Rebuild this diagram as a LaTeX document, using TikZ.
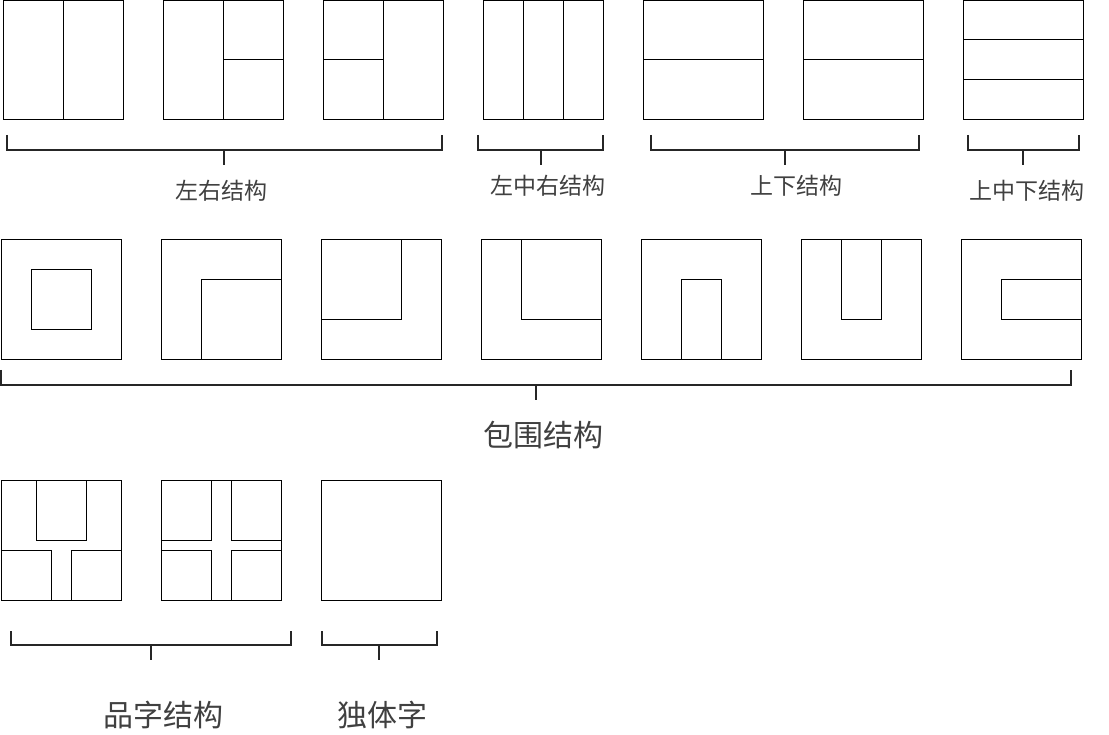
\documentclass[tikz,border=0pt]{standalone}
\usepackage{fontspec}
\newfontfamily\cjk{Noto Sans CJK SC}
\begin{document}
\begin{tikzpicture}[x=1pt,y=-1pt,
  box/.style={draw=black,line width=1pt},
  brk/.style={draw=black!85,line width=2pt},
  lbls/.style={font=\cjk\fontsize{23}{23}\selectfont,text=black!75,inner sep=0pt},
  lblb/.style={font=\cjk\fontsize{30}{30}\selectfont,text=black!75,inner sep=0pt}]
\useasboundingbox (0,0) rectangle (1109,735);
% ---------- row 1 ----------
\draw[box] (3,1) rectangle (123,120) (63,1) -- (63,120);
\draw[box] (163,1) rectangle (283,120) (223,1) -- (223,120) (223,60) -- (283,60);
\draw[box] (323,1) rectangle (443,120) (383,1) -- (383,120) (323,60) -- (383,60);
\draw[box] (483,1) rectangle (603,120) (523,1) -- (523,120) (563,1) -- (563,120);
\draw[box] (643,1) rectangle (763,120) (643,60) -- (763,60);
\draw[box] (803,1) rectangle (923,120) (803,60) -- (923,60);
\draw[box] (963,1) rectangle (1083,120) (963,40) -- (1083,40) (963,80) -- (1083,80);
% brackets row 1
\draw[brk] (7,135) -- (7,150) -- (442,150) -- (442,135);
\draw[brk] (224,150) coordinate (t1) -- (224,165) coordinate (b1);
\draw[brk] (478,135) -- (478,150) -- (603,150) -- (603,135);
\draw[brk] (541,150) coordinate (t2) -- (541,165) coordinate (b2);
\draw[brk] (651,135) -- (651,150) -- (919,150) -- (919,135);
\draw[brk] (785,150) coordinate (t3) -- (785,165) coordinate (b3);
\draw[brk] (968,135) -- (968,150) -- (1079,150) -- (1079,135);
\draw[brk] (1023,150) coordinate (t4) -- (1023,165) coordinate (b4);
\node[lbls] (l1) at (221,191) {左右结构};
\node[lbls] (l2) at (548,186) {左中右结构};
\node[lbls] (l3) at (796,186) {上下结构};
\node[lbls] (l4) at (1027,191) {上中下结构};
% ---------- row 2 ----------
\draw[box] (1,240) rectangle (121,360) (31,270) rectangle (91,330);
\draw[box] (161,240) rectangle (281,360) (201,360) -- (201,280) -- (281,280);
\draw[box] (321,240) rectangle (441,360) (401,240) -- (401,320) -- (321,320);
\draw[box] (481,240) rectangle (601,360) (521,240) -- (521,320) -- (601,320);
\draw[box] (641,240) rectangle (761,360) (681,360) -- (681,280) -- (721,280) -- (721,360);
\draw[box] (801,240) rectangle (921,360) (841,240) -- (841,320) -- (881,320) -- (881,240);
\draw[box] (961,240) rectangle (1081,360) (1081,280) -- (1001,280) -- (1001,320) -- (1081,320);
\draw[brk] (1,370) -- (1,385) -- (1071,385) -- (1071,370);
\draw[brk] (536,385) coordinate (t5) -- (536,400) coordinate (b5);
\node[lblb] (l5) at (543,435) {包围结构};
% ---------- row 3 ----------
\draw[box] (1,480) rectangle (121,600)
  (36,480) -- (36,540) -- (86,540) -- (86,480)
  (1,550) -- (51,550) -- (51,600)
  (121,550) -- (71,550) -- (71,600);
\draw[box] (161,480) rectangle (281,600)
  (211,480) -- (211,540) -- (161,540)
  (231,480) -- (231,540) -- (281,540)
  (161,550) -- (211,550) -- (211,600)
  (281,550) -- (231,550) -- (231,600);
\draw[box] (321,480) rectangle (441,600);
\draw[brk] (11,631) -- (11,645) -- (291,645) -- (291,631);
\draw[brk] (151,645) coordinate (t6) -- (151,660) coordinate (b6);
\draw[brk] (322,631) -- (322,645) -- (437,645) -- (437,631);
\draw[brk] (379,645) coordinate (t7) -- (379,660) coordinate (b7);
\node[lblb] (l6) at (163,715) {品字结构};
\node[lblb] (l7) at (382,715) {独体字};
\end{tikzpicture}
\end{document}
